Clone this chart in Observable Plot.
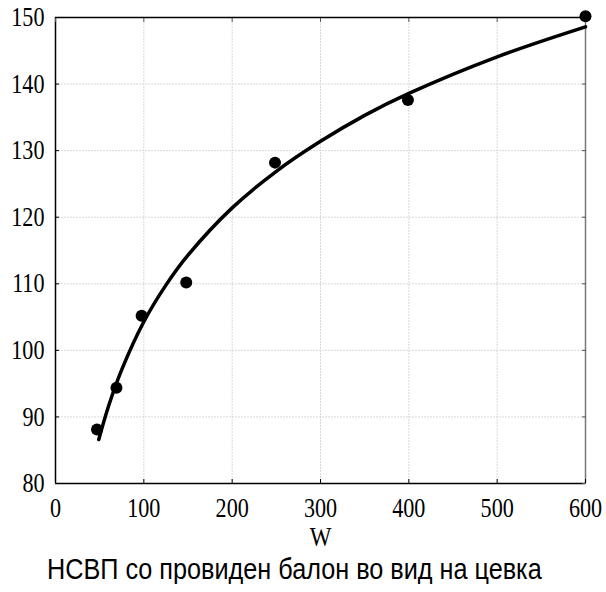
<!DOCTYPE html>
<html>
<head>
<meta charset="utf-8">
<script src="https://cdn.jsdelivr.net/npm/d3@7"></script>
<script src="https://cdn.jsdelivr.net/npm/@observablehq/plot@0.6"></script>
<style>
  body { margin: 0; background: #fff; }
  #caption { font-family: "Liberation Sans", Arial, sans-serif; font-size: 29px; color: #000; white-space: nowrap; display: inline-block; transform: scaleX(0.87); transform-origin: 0 0; margin-left: 47px; margin-top: -2px; line-height: 30px; }
</style>
</head>
<body>
<div id="chart"></div>
<div id="caption">НСВП со провиден балон во вид на цевка</div>
<script>
// measured points
const pointW = [47, 69, 97.5, 148, 248.5, 399, 600];
const pointV = [88.1, 94.4, 105.2, 110.2, 128.2, 137.6, 150.2];
// fitted curve
const curveW = [49, 60, 75, 100, 125, 150, 200, 250, 300, 350, 400, 500, 600];
const curveV = [86.6, 91.6, 97.1, 104.3, 109.8, 114.3, 121.4, 126.9, 131.4, 135.3, 138.6, 144.1, 148.6];
const xTicks = [0, 100, 200, 300, 400, 500, 600];
const yTicks = [80, 90, 100, 110, 120, 130, 140, 150];
const xLabel = "W";

const points = pointW.map((w, i) => ({w, v: pointV[i]}));
const curve = curveW.map((w, i) => ({w, v: curveV[i]}));

const serif = "'Liberation Serif', 'Times New Roman', serif";
const chart = Plot.plot({
  width: 606,
  height: 556,
  marginLeft: 55,
  marginRight: 21,
  marginTop: 17,
  marginBottom: 73,
  style: {fontFamily: serif, fontSize: "27px", background: "#fff"},
  x: {domain: [0, 600]},
  y: {domain: [80, 150]},
  marks: [
    Plot.gridX(xTicks, {stroke: "#d8d8d8", strokeOpacity: 1, strokeDasharray: "2,1"}),
    Plot.gridY(yTicks, {stroke: "#d8d8d8", strokeOpacity: 1, strokeDasharray: "2,1"}),
    Plot.ruleX([600], {stroke: "#777", strokeWidth: 1.5}),
    Plot.ruleX([0], {stroke: "#000", strokeWidth: 1.5}),
    Plot.ruleY([80, 150], {stroke: "#000", strokeWidth: 1.5}),
    Plot.axisX({ticks: xTicks, anchor: "bottom", tickSize: -4, tickPadding: 18, label: null, fill: "#000", fontSize: 27}),
    Plot.axisX({ticks: xTicks, anchor: "top", tickSize: -4, text: null, label: null, stroke: "#555"}),
    Plot.axisY({ticks: yTicks, anchor: "left", tickSize: -4, tickPadding: 15, label: null, fill: "#000", fontSize: 27}),
    Plot.axisY({ticks: yTicks, anchor: "right", tickSize: -4, text: null, label: null, stroke: "#555"}),
    Plot.text([xLabel], {frameAnchor: "bottom", lineAnchor: "middle", dy: 54, fontSize: 28, text: d => d}),
    Plot.line(curve, {x: "w", y: "v", curve: "catmull-rom", stroke: "#000", strokeWidth: 3.5}),
    Plot.dot(points, {x: "w", y: "v", r: 6, fill: "#000", stroke: "none"})
  ]
});
// condense the serif glyphs horizontally, like the reference's tall Times digits
d3.select(chart).selectAll("text").each(function() {
  const t = d3.select(this);
  t.style("font-family", serif).style("font-variant", "normal");
  const tr = t.attr("transform");
  const x = t.attr("x"), y = t.attr("y");
  if (tr) {
    t.attr("transform", tr + " scale(0.82,1)");
  } else {
    t.attr("transform", `translate(${x || 0},${y || 0}) scale(0.82,1)`).attr("x", null).attr("y", null);
  }
});
document.getElementById("chart").appendChild(chart);
</script>
</body>
</html>
